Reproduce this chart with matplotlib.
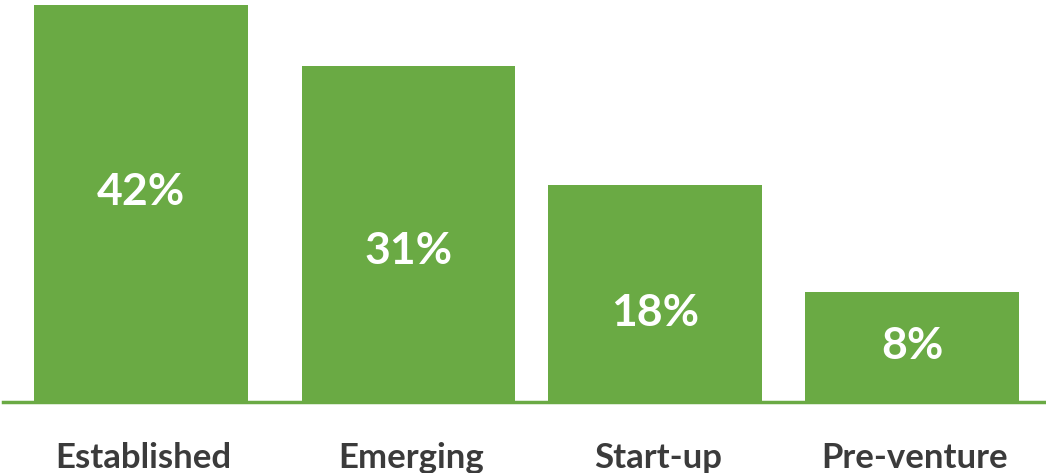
import matplotlib
matplotlib.use("Agg")
import matplotlib.pyplot as plt

categories = ["Established", "Emerging", "Start-up", "Pre-venture"]
labels = ["42%", "31%", "18%", "8%"]
# bar lengths as drawn in the picture (scaled so the tallest = 42)
bar_heights = [42, 35.6, 23.0, 11.6]

# layout: label height as fraction of the bar
label_frac = [0.53, 0.45, 0.41, 0.51]

GREEN = "#6aaa44"
TEXT = "#3b3b3b"
FONT = ["Lato", "DejaVu Sans"]

fig = plt.figure(figsize=(10.46, 4.73), dpi=100)
ax = fig.add_axes([0, 0, 1, 1])
x = [0, 1.04, 2.0, 3.0]
ax.bar(x, bar_heights, width=0.83, color=GREEN, zorder=2)
ax.axhline(0, xmin=0.003, xmax=1, color=GREEN, lw=2.5, zorder=1)

for xi, h, lab, f in zip(x, bar_heights, labels, label_frac):
    ax.text(xi, h * f, lab, ha="center", va="center", color="white",
            fontsize=32, fontweight="bold", family=FONT, zorder=3)
for xi, cat in zip(x, categories):
    ax.text(xi + 0.01, -5.9, cat, ha="center", va="center", color=TEXT,
            fontsize=25, fontweight="bold", family=FONT)

ax.set_xlim(-0.549, 3.521)
ax.set_ylim(-7.51, 42.54)
ax.axis("off")
fig.savefig("out.png", dpi=100)
